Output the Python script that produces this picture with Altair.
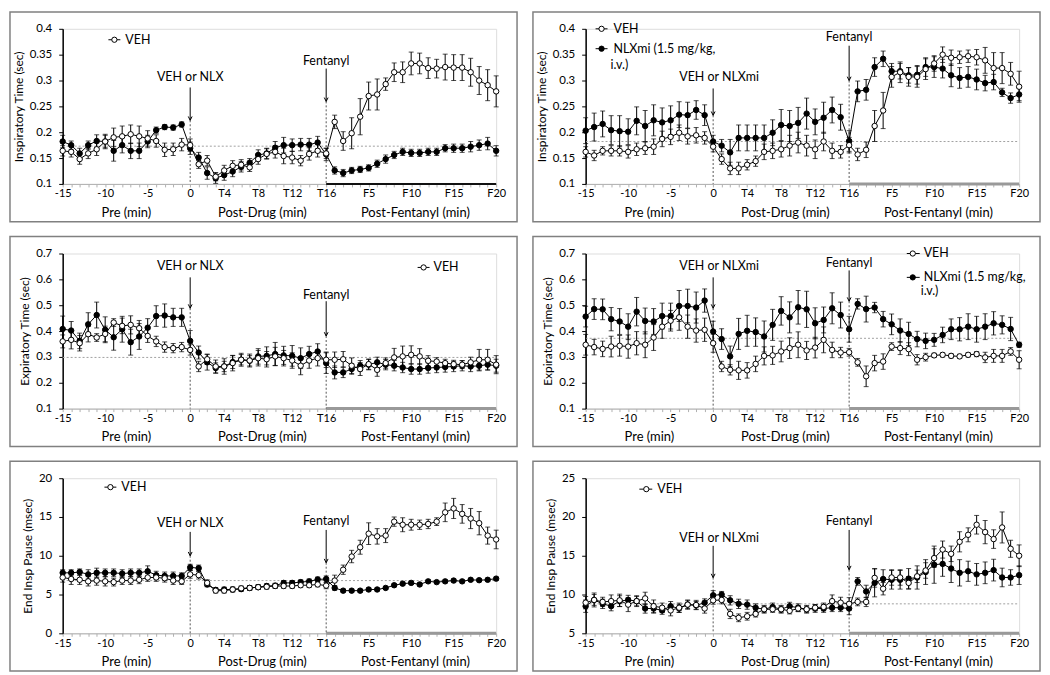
import json
import altair as alt
import pandas as pd

FONT = "Lato"
W, H = 436, 156

# ---- x layout: Pre (-15..0), Post-drug (T1..T16), Post-fentanyl (F1..F20) ----
PRE_MIN = list(range(-15, 1))
POST_MIN = list(range(1, 17))
FENT_MIN = list(range(1, 21))
POS = PRE_MIN + POST_MIN + [16 + m for m in FENT_MIN]

TICK_POS = [-15, -10, -5, 0, 4, 8, 12, 16, 21, 26, 31, 36]
TICK_LABELS = ["-15", "-10", "-5", "0", "T4", "T8", "T12", "T16", "F5", "F10", "F15", "F20"]
PHASE_LABELS = ["Pre (min)", "Post-Drug (min)", "Post-Fentanyl (min)"]
PHASE_CENTER = [-7.5, 8.5, 26.5]
DRUG_AT = 0
FENT_AT = 16
FENT_END = 36

# ---- Panel 1: Inspiratory time, VEH vs NLX ----
P1_VEH = [0.164, 0.162, 0.148, 0.159, 0.167, 0.182, 0.190, 0.192, 0.196, 0.192, 0.188, 0.183, 0.166, 0.167, 0.176, 0.175,
          0.138, 0.145, 0.114, 0.126, 0.135, 0.137, 0.132, 0.148, 0.158, 0.162, 0.154, 0.151, 0.145, 0.158, 0.164, 0.159,
          0.220, 0.183, 0.198, 0.230, 0.270, 0.273, 0.293, 0.316, 0.316, 0.333, 0.333, 0.324, 0.323, 0.326, 0.325, 0.325, 0.316, 0.300, 0.291, 0.279]
P1_VEH_ERR = [0.010, 0.010, 0.010, 0.010, 0.012, 0.014, 0.018, 0.020, 0.018, 0.020, 0.015, 0.012, 0.013, 0.012, 0.012, 0.012,
              0.008, 0.010, 0.008, 0.010, 0.010, 0.010, 0.008, 0.010, 0.010, 0.012, 0.015, 0.012, 0.010, 0.012, 0.012, 0.010,
              0.013, 0.018, 0.030, 0.035, 0.027, 0.030, 0.012, 0.018, 0.020, 0.022, 0.020, 0.020, 0.018, 0.025, 0.025, 0.025, 0.027, 0.027, 0.030, 0.030]
P1_NLX = [0.182, 0.175, 0.159, 0.175, 0.183, 0.182, 0.164, 0.175, 0.164, 0.164, 0.182, 0.204, 0.210, 0.209, 0.215, 0.169,
          0.151, 0.121, 0.111, 0.117, 0.124, 0.133, 0.141, 0.156, 0.159, 0.170, 0.175, 0.175, 0.176, 0.176, 0.180, 0.157,
          0.126, 0.121, 0.126, 0.128, 0.131, 0.139, 0.148, 0.156, 0.162, 0.160, 0.160, 0.162, 0.162, 0.169, 0.169, 0.169, 0.172, 0.175, 0.178, 0.164]
P1_NLX_ERR = [0.012, 0.008, 0.010, 0.008, 0.012, 0.012, 0.020, 0.015, 0.015, 0.015, 0.012, 0.006, 0.005, 0.005, 0.005, 0.012,
              0.010, 0.012, 0.010, 0.010, 0.010, 0.010, 0.008, 0.010, 0.010, 0.012, 0.015, 0.012, 0.012, 0.012, 0.012, 0.012,
              0.007, 0.007, 0.006, 0.006, 0.006, 0.007, 0.008, 0.007, 0.007, 0.007, 0.007, 0.007, 0.007, 0.007, 0.008, 0.008, 0.010, 0.010, 0.012, 0.010]

# ---- Panel 2: Inspiratory time, VEH vs NLXmi ----
P2_VEH = [0.162, 0.155, 0.164, 0.164, 0.164, 0.162, 0.167, 0.169, 0.172, 0.187, 0.191, 0.199, 0.192, 0.194, 0.189, 0.172,
          0.148, 0.130, 0.130, 0.137, 0.144, 0.162, 0.164, 0.167, 0.174, 0.180, 0.174, 0.167, 0.182, 0.164, 0.162, 0.175,
          0.157, 0.166, 0.212, 0.242, 0.307, 0.316, 0.307, 0.307, 0.322, 0.333, 0.350, 0.344, 0.345, 0.347, 0.345, 0.339, 0.324, 0.324, 0.313, 0.288]
P2_VEH_ERR = [0.010, 0.010, 0.008, 0.010, 0.010, 0.012, 0.012, 0.012, 0.015, 0.015, 0.015, 0.015, 0.015, 0.015, 0.012, 0.010,
              0.010, 0.012, 0.012, 0.010, 0.010, 0.015, 0.015, 0.015, 0.020, 0.020, 0.020, 0.018, 0.018, 0.015, 0.012, 0.015,
              0.012, 0.015, 0.030, 0.035, 0.020, 0.020, 0.018, 0.020, 0.020, 0.015, 0.015, 0.015, 0.012, 0.012, 0.015, 0.025, 0.030, 0.030, 0.022, 0.030]
P2_NLX = [0.203, 0.210, 0.216, 0.204, 0.202, 0.201, 0.222, 0.212, 0.223, 0.219, 0.223, 0.234, 0.233, 0.243, 0.233, 0.182,
          0.174, 0.161, 0.189, 0.189, 0.189, 0.189, 0.199, 0.214, 0.212, 0.218, 0.236, 0.220, 0.228, 0.243, 0.229, 0.183,
          0.279, 0.282, 0.326, 0.342, 0.318, 0.318, 0.310, 0.311, 0.326, 0.326, 0.323, 0.310, 0.305, 0.307, 0.302, 0.295, 0.297, 0.277, 0.266, 0.273]
P2_NLX_ERR = [0.025, 0.027, 0.025, 0.028, 0.030, 0.025, 0.027, 0.030, 0.030, 0.028, 0.028, 0.025, 0.025, 0.018, 0.020, 0.012,
              0.012, 0.025, 0.025, 0.025, 0.025, 0.025, 0.025, 0.030, 0.030, 0.030, 0.030, 0.025, 0.030, 0.025, 0.025, 0.020,
              0.020, 0.020, 0.018, 0.015, 0.015, 0.015, 0.015, 0.018, 0.018, 0.020, 0.018, 0.022, 0.020, 0.020, 0.020, 0.015, 0.015, 0.008, 0.010, 0.012]

# ---- Panel 3: Expiratory time, VEH vs NLX ----
P3_VEH = [0.360, 0.366, 0.353, 0.388, 0.375, 0.389, 0.433, 0.420, 0.424, 0.411, 0.381, 0.360, 0.338, 0.334, 0.338, 0.327,
          0.263, 0.291, 0.263, 0.263, 0.276, 0.289, 0.286, 0.295, 0.291, 0.302, 0.295, 0.286, 0.266, 0.286, 0.295, 0.289,
          0.289, 0.291, 0.266, 0.253, 0.272, 0.250, 0.276, 0.298, 0.302, 0.308, 0.302, 0.285, 0.282, 0.276, 0.272, 0.270, 0.279, 0.289, 0.289, 0.270]
P3_VEH_ERR = [0.025, 0.035, 0.030, 0.030, 0.015, 0.030, 0.015, 0.030, 0.035, 0.030, 0.025, 0.020, 0.020, 0.018, 0.018, 0.020,
              0.020, 0.020, 0.025, 0.030, 0.030, 0.025, 0.025, 0.030, 0.030, 0.035, 0.030, 0.030, 0.035, 0.030, 0.030, 0.030,
              0.030, 0.030, 0.030, 0.025, 0.020, 0.025, 0.020, 0.035, 0.040, 0.035, 0.030, 0.020, 0.015, 0.015, 0.015, 0.015, 0.020, 0.040, 0.040, 0.035]
P3_NLX = [0.408, 0.402, 0.362, 0.426, 0.462, 0.405, 0.376, 0.407, 0.357, 0.379, 0.413, 0.458, 0.460, 0.453, 0.453, 0.362,
          0.317, 0.279, 0.257, 0.263, 0.280, 0.289, 0.285, 0.302, 0.304, 0.311, 0.306, 0.304, 0.295, 0.311, 0.321, 0.276,
          0.240, 0.240, 0.253, 0.266, 0.270, 0.279, 0.270, 0.266, 0.259, 0.253, 0.253, 0.257, 0.259, 0.261, 0.263, 0.266, 0.263, 0.266, 0.270, 0.266]
P3_NLX_ERR = [0.050, 0.035, 0.030, 0.045, 0.050, 0.050, 0.050, 0.050, 0.050, 0.050, 0.035, 0.040, 0.045, 0.035, 0.035, 0.040,
              0.025, 0.030, 0.020, 0.020, 0.025, 0.020, 0.020, 0.030, 0.035, 0.045, 0.035, 0.040, 0.040, 0.030, 0.030, 0.040,
              0.025, 0.020, 0.020, 0.020, 0.020, 0.020, 0.020, 0.020, 0.020, 0.020, 0.020, 0.020, 0.020, 0.020, 0.020, 0.020, 0.020, 0.020, 0.020, 0.025]

# ---- Panel 4: Expiratory time, VEH vs NLXmi ----
P4_VEH = [0.347, 0.338, 0.331, 0.340, 0.343, 0.340, 0.353, 0.347, 0.375, 0.417, 0.440, 0.453, 0.417, 0.402, 0.405, 0.353,
          0.263, 0.250, 0.248, 0.248, 0.273, 0.304, 0.306, 0.321, 0.334, 0.347, 0.325, 0.336, 0.366, 0.327, 0.317, 0.318,
          0.279, 0.225, 0.276, 0.282, 0.340, 0.334, 0.330, 0.289, 0.299, 0.306, 0.308, 0.304, 0.302, 0.308, 0.311, 0.298, 0.304, 0.304, 0.321, 0.289]
P4_VEH_ERR = [0.040, 0.030, 0.030, 0.040, 0.040, 0.045, 0.045, 0.050, 0.050, 0.045, 0.040, 0.050, 0.045, 0.045, 0.045, 0.035,
              0.020, 0.020, 0.035, 0.030, 0.030, 0.035, 0.035, 0.040, 0.040, 0.050, 0.035, 0.040, 0.050, 0.030, 0.020, 0.015,
              0.015, 0.040, 0.030, 0.030, 0.015, 0.025, 0.025, 0.020, 0.015, 0.008, 0.008, 0.008, 0.008, 0.008, 0.010, 0.020, 0.025, 0.025, 0.015, 0.035]
P4_NLX = [0.456, 0.485, 0.484, 0.446, 0.437, 0.417, 0.475, 0.439, 0.437, 0.458, 0.458, 0.497, 0.497, 0.491, 0.518, 0.398,
          0.369, 0.302, 0.389, 0.401, 0.396, 0.379, 0.424, 0.478, 0.453, 0.492, 0.484, 0.430, 0.443, 0.488, 0.462, 0.407,
          0.505, 0.485, 0.491, 0.446, 0.426, 0.402, 0.389, 0.369, 0.362, 0.366, 0.385, 0.407, 0.407, 0.417, 0.407, 0.417, 0.430, 0.424, 0.408, 0.347]
P4_NLX_ERR = [0.040, 0.040, 0.040, 0.045, 0.050, 0.050, 0.055, 0.050, 0.050, 0.050, 0.050, 0.060, 0.065, 0.060, 0.045, 0.040,
              0.040, 0.040, 0.060, 0.060, 0.055, 0.060, 0.060, 0.055, 0.060, 0.065, 0.070, 0.060, 0.050, 0.060, 0.050, 0.050,
              0.020, 0.050, 0.020, 0.030, 0.040, 0.045, 0.045, 0.030, 0.030, 0.025, 0.030, 0.040, 0.045, 0.050, 0.050, 0.050, 0.045, 0.035, 0.045, 0.010]

# ---- Panel 5: End inspiratory pause, VEH vs NLX ----
P5_VEH = [7.2, 7.0, 6.9, 6.7, 6.8, 6.7, 6.6, 6.8, 6.8, 6.9, 7.2, 7.2, 7.1, 6.8, 6.7, 7.6,
          7.5, 6.5, 5.5, 5.5, 5.65, 5.8, 5.85, 5.95, 6.0, 6.1, 6.1, 6.1, 6.2, 6.2, 6.3, 6.15,
          6.8, 8.2, 9.9, 11.1, 12.85, 12.5, 12.6, 14.4, 14.0, 14.0, 14.0, 14.1, 14.4, 15.6, 16.1, 15.4, 14.8, 14.2, 12.6, 12.1]
P5_VEH_ERR = [0.6, 0.7, 0.6, 0.6, 0.6, 0.6, 0.5, 0.5, 0.5, 0.5, 0.5, 0.5, 0.5, 0.5, 0.4, 0.5,
              0.5, 0.4, 0.3, 0.3, 0.3, 0.3, 0.3, 0.3, 0.3, 0.3, 0.3, 0.3, 0.3, 0.3, 0.3, 0.4,
              0.7, 0.6, 0.8, 0.9, 1.4, 1.0, 0.9, 0.6, 0.9, 0.7, 0.6, 0.6, 0.5, 1.2, 1.3, 1.2, 1.3, 1.5, 1.1, 1.2]
P5_NLX = [7.8, 7.8, 7.9, 7.6, 7.8, 7.8, 7.8, 7.7, 7.8, 7.8, 8.0, 7.5, 7.4, 7.4, 7.4, 8.5,
          8.4, 6.3, 5.6, 5.65, 5.65, 5.7, 5.85, 5.95, 6.1, 6.15, 6.5, 6.5, 6.6, 6.7, 6.95, 7.0,
          5.85, 5.5, 5.5, 5.5, 5.65, 5.65, 5.85, 6.2, 6.4, 6.5, 6.3, 6.7, 6.6, 6.7, 6.8, 6.7, 6.9, 6.85, 6.9, 7.05]
P5_NLX_ERR = [0.4, 0.4, 0.4, 0.6, 0.6, 0.5, 0.5, 0.5, 0.5, 0.5, 0.7, 0.5, 0.5, 0.5, 0.4, 0.4,
              0.4, 0.3, 0.3, 0.3, 0.3, 0.3, 0.3, 0.3, 0.3, 0.3, 0.3, 0.3, 0.3, 0.3, 0.3, 0.4,
              0.3, 0.2, 0.2, 0.2, 0.2, 0.2, 0.2, 0.2, 0.2, 0.2, 0.2, 0.2, 0.2, 0.2, 0.2, 0.2, 0.2, 0.2, 0.2, 0.2]

# ---- Panel 6: End inspiratory pause, VEH vs NLXmi ----
P6_VEH = [8.95, 9.3, 9.05, 9.15, 9.25, 8.7, 9.15, 9.5, 8.5, 8.3, 7.95, 8.3, 8.7, 8.65, 8.2, 9.25,
          9.3, 7.5, 7.0, 7.2, 7.5, 8.1, 8.1, 8.1, 7.9, 8.2, 8.1, 8.3, 8.4, 9.15, 8.95, 8.8,
          9.05, 9.05, 12.15, 10.75, 12.2, 12.2, 11.5, 12.35, 13.1, 14.7, 15.8, 15.25, 16.8, 17.7, 19.0, 18.05, 17.15, 18.65, 15.9, 15.0]
P6_VEH_ERR = [0.8, 0.9, 0.6, 0.8, 0.8, 0.9, 0.7, 0.8, 0.8, 0.6, 0.7, 0.6, 0.6, 0.6, 0.6, 0.5,
              0.5, 0.6, 0.5, 0.5, 0.4, 0.4, 0.4, 0.4, 0.4, 0.4, 0.4, 0.4, 0.5, 0.8, 0.7, 0.8,
              0.5, 0.6, 1.2, 0.8, 1.0, 1.0, 0.8, 0.8, 1.0, 1.2, 1.1, 1.0, 1.3, 0.9, 1.2, 1.5, 1.2, 2.0, 1.1, 1.4]
P6_NLX = [8.5, 9.3, 8.8, 8.5, 9.15, 9.3, 9.15, 8.2, 8.2, 7.95, 8.5, 8.2, 8.7, 8.6, 8.95, 9.9,
          10.0, 9.25, 8.8, 8.7, 8.3, 8.1, 8.4, 8.1, 8.5, 8.3, 8.1, 8.2, 8.2, 8.3, 8.3, 8.2,
          11.7, 10.4, 11.5, 12.0, 11.9, 11.9, 12.05, 12.2, 12.9, 13.85, 13.95, 13.35, 12.8, 13.0, 12.6, 12.8, 13.15, 12.2, 12.2, 12.5]
P6_NLX_ERR = [0.8, 0.7, 0.6, 0.6, 0.7, 0.6, 0.6, 0.6, 0.6, 0.5, 0.6, 0.5, 0.5, 0.5, 0.5, 0.6,
              0.4, 0.6, 0.6, 0.6, 0.5, 0.5, 0.5, 0.5, 0.5, 0.5, 0.5, 0.5, 0.5, 0.5, 0.5, 0.8,
              0.5, 0.8, 1.8, 1.2, 1.2, 1.2, 1.3, 1.5, 1.6, 2.4, 1.6, 1.8, 1.7, 1.3, 1.4, 1.4, 1.4, 1.2, 1.0, 1.2]

Y_TITLES = ["Inspiratory Time (sec)", "Inspiratory Time (sec)", "Expiratory Time (sec)",
            "Expiratory Time (sec)", "End Insp Pause (msec)", "End Insp Pause (msec)"]
Y_DOMAINS = [[0.1, 0.4], [0.1, 0.4], [0.1, 0.7], [0.1, 0.7], [0, 20], [5, 25]]
Y_TICKS = [[0.1, 0.15, 0.2, 0.25, 0.3, 0.35, 0.4], [0.1, 0.15, 0.2, 0.25, 0.3, 0.35, 0.4],
           [0.1, 0.2, 0.3, 0.4, 0.5, 0.6, 0.7], [0.1, 0.2, 0.3, 0.4, 0.5, 0.6, 0.7],
           [0, 5, 10, 15, 20], [5, 10, 15, 20, 25]]
Y_FORMATS = [".2~f", ".2~f", ".1f", ".1f", "d", "d"]
BASELINES = [0.173, 0.182, 0.298, 0.372, 6.8, 8.8]
DRUG_LABELS = ["VEH or NLX", "VEH or NLXmi", "VEH or NLX", "VEH or NLXmi", "VEH or NLX", "VEH or NLXmi"]
VEH_NAME = "VEH"
NLX_NAME = "NLXmi (1.5 mg/kg,"
NLX_NAME2 = "i.v.)"
FENT_LABEL = "Fentanyl"

# styling / placement (pixels relative to plot area)
STYLE = [
    dict(drug_dx=0, drug_ty=48, drug_a=(59, 92), fent_ty=32, fent_a=(40, 73), bar=("#111111", 2),
         legend=[dict(filled=False, x0=46, x1=58, xc=52, xt=63, y=11)]),
    dict(drug_dx=6, drug_ty=48, drug_a=(60, 87), fent_ty=8, fent_a=(17, 52), bar=("#999999", 3),
         legend=[dict(filled=False, x0=10, x1=22, xc=16, xt=28, y=0),
                 dict(filled=True, x0=10, x1=22, xc=16, xt=28, y=20, two=(25, 36))]),
    dict(drug_dx=0, drug_ty=13, drug_a=(24, 55), fent_ty=42, fent_a=(48, 83), bar=("#999999", 3),
         legend=[dict(filled=False, x0=357, x1=369, xc=363, xt=373, y=14)]),
    dict(drug_dx=6, drug_ty=13, drug_a=(24, 55), fent_ty=10, fent_a=(17, 48), bar=("#999999", 3),
         legend=[dict(filled=False, x0=323, x1=336, xc=329, xt=340, y=0),
                 dict(filled=True, x0=323, x1=336, xc=329, xt=340, y=24, two=(337, 38))]),
    dict(drug_dx=0, drug_ty=45, drug_a=(54, 78), fent_ty=43, fent_a=(52, 85), bar=("#999999", 3),
         legend=[dict(filled=False, x0=42, x1=54, xc=48, xt=59, y=9)]),
    dict(drug_dx=6, drug_ty=60, drug_a=(68, 100), fent_ty=43, fent_a=(52, 92), bar=("#999999", 3),
         legend=[dict(filled=False, x0=54, x1=67, xc=61, xt=72, y=11)]),
]

SERIES = [(P1_VEH, P1_VEH_ERR, P1_NLX, P1_NLX_ERR), (P2_VEH, P2_VEH_ERR, P2_NLX, P2_NLX_ERR),
          (P3_VEH, P3_VEH_ERR, P3_NLX, P3_NLX_ERR), (P4_VEH, P4_VEH_ERR, P4_NLX, P4_NLX_ERR),
          (P5_VEH, P5_VEH_ERR, P5_NLX, P5_NLX_ERR), (P6_VEH, P6_VEH_ERR, P6_NLX, P6_NLX_ERR)]

ARROW_HEAD = "M-0.7,-1.4L0,0L0.7,-1.4"
LABEL_EXPR = (f"indexof({json.dumps(TICK_POS)}, datum.value) >= 0 ? "
              f"{json.dumps(TICK_LABELS)}[indexof({json.dumps(TICK_POS)}, datum.value)] : ''")


def make_panel(i):
    veh, veh_err, nlx, nlx_err = SERIES[i]
    st = STYLE[i]
    ymin, ymax = Y_DOMAINS[i]
    xs = alt.Scale(domain=[POS[0], POS[-1]], nice=False, zero=False)
    ys = alt.Scale(domain=[ymin, ymax], nice=False, zero=False)
    xaxis = alt.Axis(values=list(range(POS[0], POS[-1] + 1)), labelExpr=LABEL_EXPR, title="",
                     domainColor="#b0b0b0", domainWidth=1, tickColor="#b0b0b0", tickSize=3,
                     labelColor="black", labelFontSize=11, labelPadding=1, labelOverlap=False,
                     labelFlush=False, labelBound=False, grid=False, labelFont=FONT)
    yaxis = alt.Axis(values=Y_TICKS[i], format=Y_FORMATS[i], title=Y_TITLES[i], domainColor="black",
                     domainWidth=1.5, tickColor="black", tickSize=4, tickWidth=1, labelColor="black",
                     labelFontSize=11.5, labelPadding=7, titleFontSize=12, titleFontWeight="normal",
                     titleColor="black", titlePadding=4, grid=False, labelFont=FONT, titleFont=FONT)

    def X(f):
        return alt.X(f, scale=xs, axis=xaxis)

    def Y(f):
        return alt.Y(f, scale=ys, axis=yaxis)

    one = pd.DataFrame({"k": [0]})
    layers = []

    # panel frame
    layers.append(alt.Chart(one).mark_rect(fill="white", fillOpacity=0, stroke="#808080", strokeWidth=1.5).encode(
        x=alt.value(-53), x2=alt.value(W + 21), y=alt.value(-17), y2=alt.value(H + 38)))

    # baseline (dotted)
    base_df = pd.DataFrame({"x0": [POS[0]], "x1": [POS[-1]], "yb": [BASELINES[i]]})
    layers.append(alt.Chart(base_df).mark_rule(color="#a0a0a0", strokeDash=[2, 2], strokeWidth=1).encode(
        x=X("x0:Q"), x2="x1:Q", y=Y("yb:Q")))

    # fentanyl period bar on x-axis
    bar_df = pd.DataFrame({"x0": [FENT_AT], "x1": [FENT_END], "yb": [ymin]})
    layers.append(alt.Chart(bar_df).mark_rule(color=st["bar"][0], strokeWidth=st["bar"][1]).encode(
        x=X("x0:Q"), x2="x1:Q", y=Y("yb:Q")))

    # injection markers: dotted line, arrow, label
    for at, label, dx, ty, (a0, a1) in ((DRUG_AT, DRUG_LABELS[i], st["drug_dx"], st["drug_ty"], st["drug_a"]),
                                         (FENT_AT, FENT_LABEL, 0, st["fent_ty"], st["fent_a"])):
        adf = pd.DataFrame({"x": [at], "t": [label]})
        layers.append(alt.Chart(adf).mark_rule(color="#555555", strokeDash=[2, 2], strokeWidth=1).encode(
            x=X("x:Q"), y=alt.value(a1), y2=alt.value(H)))
        layers.append(alt.Chart(adf).mark_rule(color="black", strokeWidth=1).encode(
            x=X("x:Q"), y=alt.value(a0), y2=alt.value(a1)))
        layers.append(alt.Chart(adf).mark_point(shape=ARROW_HEAD, filled=False, color="black", strokeWidth=1,
                                                size=30, opacity=1).encode(x=X("x:Q"), y=alt.value(a1)))
        layers.append(alt.Chart(adf).mark_text(font=FONT, fontSize=12.5, color="black", dx=dx,
                                               baseline="middle").encode(x=X("x:Q"), y=alt.value(ty), text="t:N"))

    # data series
    for grp, vals, errs, filled in (("NLX", nlx, nlx_err, True), ("VEH", veh, veh_err, False)):
        df = pd.DataFrame({"pos": POS, "val": vals, "err": errs})
        df["lo"] = df["val"] - df["err"]
        df["hi"] = df["val"] + df["err"]
        c = alt.Chart(df)
        layers.append(c.mark_rule(color="black", strokeWidth=1).encode(x=X("pos:Q"), y=Y("lo:Q"), y2="hi:Q"))
        for f in ("lo", "hi"):
            layers.append(c.mark_tick(orient="horizontal", color="black", size=5, thickness=1).encode(
                x=X("pos:Q"), y=Y(f"{f}:Q")))
        layers.append(c.mark_line(color="black", strokeWidth=1).encode(x=X("pos:Q"), y=Y("val:Q")))
        layers.append(c.mark_circle(size=30, opacity=1, fill="black" if filled else "white",
                                    stroke="black", strokeWidth=1).encode(x=X("pos:Q"), y=Y("val:Q")))

    # phase labels under the x-axis
    ph = pd.DataFrame({"x": PHASE_CENTER, "t": PHASE_LABELS})
    layers.append(alt.Chart(ph).mark_text(font=FONT, fontSize=13, color="black", baseline="middle").encode(
        x=X("x:Q"), y=alt.value(H + 29), text="t:N"))

    # legend
    for e in st["legend"]:
        layers.append(alt.Chart(one).mark_rule(color="black", strokeWidth=1).encode(
            x=alt.value(e["x0"]), x2=alt.value(e["x1"]), y=alt.value(e["y"])))
        layers.append(alt.Chart(one).mark_circle(size=28, opacity=1, fill="black" if e["filled"] else "white",
                                                 stroke="black", strokeWidth=1).encode(
            x=alt.value(e["xc"]), y=alt.value(e["y"])))
        name = NLX_NAME if e["filled"] else VEH_NAME
        layers.append(alt.Chart(one).mark_text(text=name, font=FONT, fontSize=12.5, align="left",
                                               baseline="middle", color="black").encode(
            x=alt.value(e["xt"]), y=alt.value(e["y"])))
        if "two" in e:
            layers.append(alt.Chart(one).mark_text(text=NLX_NAME2, font=FONT, fontSize=12.5, align="left",
                                                   baseline="middle", color="black").encode(
                x=alt.value(e["two"][0]), y=alt.value(e["two"][1])))

    return alt.layer(*layers).properties(width=W, height=H)


rows = [alt.hconcat(make_panel(k), make_panel(k + 1), spacing=12).resolve_scale(x="independent", y="independent")
        for k in (0, 2, 4)]
chart = (alt.vconcat(*rows, spacing=11)
         .resolve_scale(x="independent", y="independent")
         .properties(padding=0, background="white")
         .configure_view(strokeWidth=0)
         .configure(font=FONT))

chart.save("out.html", embed_options={"renderer": "svg", "actions": False})
